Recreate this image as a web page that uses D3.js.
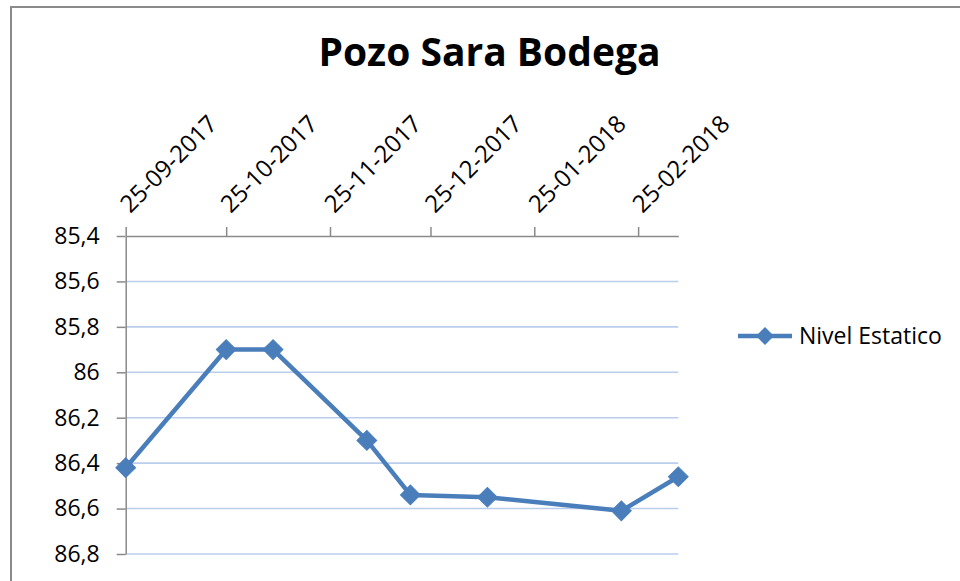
<!DOCTYPE html>
<html>
<head>
<meta charset="utf-8">
<script src="https://cdn.jsdelivr.net/npm/d3@7"></script>
<style>
  body { margin: 0; background: #fff; }
  text { font-family: "Open Sans", sans-serif; }
</style>
</head>
<body>
<div id="chart"></div>
<script>

var width = 960,
    height = 581;

// data
var dates = ["25-09-2017", "25-10-2017", "08-11-2017", "06-12-2017",
             "19-12-2017", "11-01-2018", "20-02-2018", "09-03-2018"];
var nivel = [86.42, 85.90, 85.90, 86.30, 86.54, 86.55, 86.61, 86.46];

var xTickLabels = ["25-09-2017", "25-10-2017", "25-11-2017",
                   "25-12-2017", "25-01-2018", "25-02-2018"];
var yTickLabels = ["85,4", "85,6", "85,8", "86", "86,2", "86,4", "86,6", "86,8"];

var titulo = "Pozo Sara Bodega";
var serie = "Nivel Estatico";

var parseDate = d3.timeParse("%d-%m-%Y");
var color = "#4a7ebb";

var data = dates.map(function(d, i) {
  return { date: parseDate(d), value: nivel[i] };
});

var yVals = yTickLabels.map(function(l) { return +l.replace(",", "."); });

var x = d3.scaleTime()
    .domain(d3.extent(data, function(d) { return d.date; }))
    .range([125.7, 678.3]);

var y = d3.scaleLinear()
    .domain([d3.min(yVals), d3.max(yVals)])   // reversed: small values on top
    .range([236, 554]);

var svg = d3.select("#chart").append("svg")
    .attr("width", width)
    .attr("height", height);

// chart area border (only left and top visible)
svg.append("rect")
    .attr("x", 11)
    .attr("y", 7)
    .attr("width", width + 20)
    .attr("height", height + 20)
    .attr("fill", "none")
    .attr("stroke", "#8a8a8a")
    .attr("stroke-width", 2);

// title
svg.append("text")
    .attr("x", 489.5)
    .attr("y", 65.5)
    .attr("text-anchor", "middle")
    .attr("font-size", 39)
    .attr("font-weight", "bold")
    .attr("fill", "#000")
    .text(titulo);

// gridlines
svg.append("g")
    .selectAll("line")
    .data(yVals.slice(1))
  .enter().append("line")
    .attr("x1", x.range()[0])
    .attr("x2", x.range()[1])
    .attr("y1", function(d) { return y(d); })
    .attr("y2", function(d) { return y(d); })
    .attr("stroke", "#bacdec")
    .attr("stroke-width", 1.6);

// y axis
var yAxis = d3.axisLeft(y)
    .tickValues(yVals)
    .tickFormat(function(d, i) { return yTickLabels[i]; })
    .tickSize(9)
    .tickSizeOuter(0)
    .tickPadding(17);

var gy = svg.append("g")
    .attr("transform", "translate(" + x.range()[0] + ",0)")
    .call(yAxis);

gy.selectAll("text")
    .attr("font-size", 23)
    .attr("font-family", "Open Sans, sans-serif")
    .attr("fill", "#000");

// x axis on top
var xAxis = d3.axisTop(x)
    .tickValues(xTickLabels.map(parseDate))
    .tickFormat(function(d, i) { return xTickLabels[i]; })
    .tickSize(9)
    .tickSizeOuter(0);

var gx = svg.append("g")
    .attr("transform", "translate(0," + y.range()[0] + ")")
    .call(xAxis);

gx.selectAll("text")
    .attr("font-size", 24)
    .attr("font-family", "Open Sans, sans-serif")
    .attr("fill", "#000")
    .attr("x", 0)
    .attr("y", 0)
    .attr("dy", 0)
    .attr("text-anchor", "start")
    .attr("transform", "translate(4,-22) rotate(-45)");

[gx, gy].forEach(function(g) {
  g.select(".domain").attr("stroke", "#8a8a8a").attr("stroke-width", 1.5);
  g.selectAll(".tick line").attr("stroke", "#8a8a8a").attr("stroke-width", 1.5);
});

// series line
var line = d3.line()
    .x(function(d) { return x(d.date); })
    .y(function(d) { return y(d.value); });

svg.append("path")
    .datum(data)
    .attr("d", line)
    .attr("fill", "none")
    .attr("stroke", color)
    .attr("stroke-width", 4.5)
    .attr("stroke-linejoin", "round");

var diamond = d3.symbol().type(d3.symbolSquare).size(195);

svg.append("g")
    .selectAll("path")
    .data(data)
  .enter().append("path")
    .attr("d", diamond)
    .attr("transform", function(d) {
      return "translate(" + x(d.date) + "," + y(d.value) + ") rotate(45)";
    })
    .attr("fill", color)
    .attr("stroke", color)
    .attr("stroke-width", 1);

// legend
var legend = svg.append("g")
    .attr("transform", "translate(738,336)");

legend.append("line")
    .attr("x1", 0)
    .attr("x2", 54)
    .attr("stroke", color)
    .attr("stroke-width", 4.5);

legend.append("path")
    .attr("d", d3.symbol().type(d3.symbolSquare).size(160))
    .attr("transform", "translate(27,0) rotate(45)")
    .attr("fill", color);

legend.append("text")
    .attr("x", 61)
    .attr("y", 7.5)
    .attr("font-size", 23)
    .attr("fill", "#000")
    .text(serie);

</script>
</body>
</html>
